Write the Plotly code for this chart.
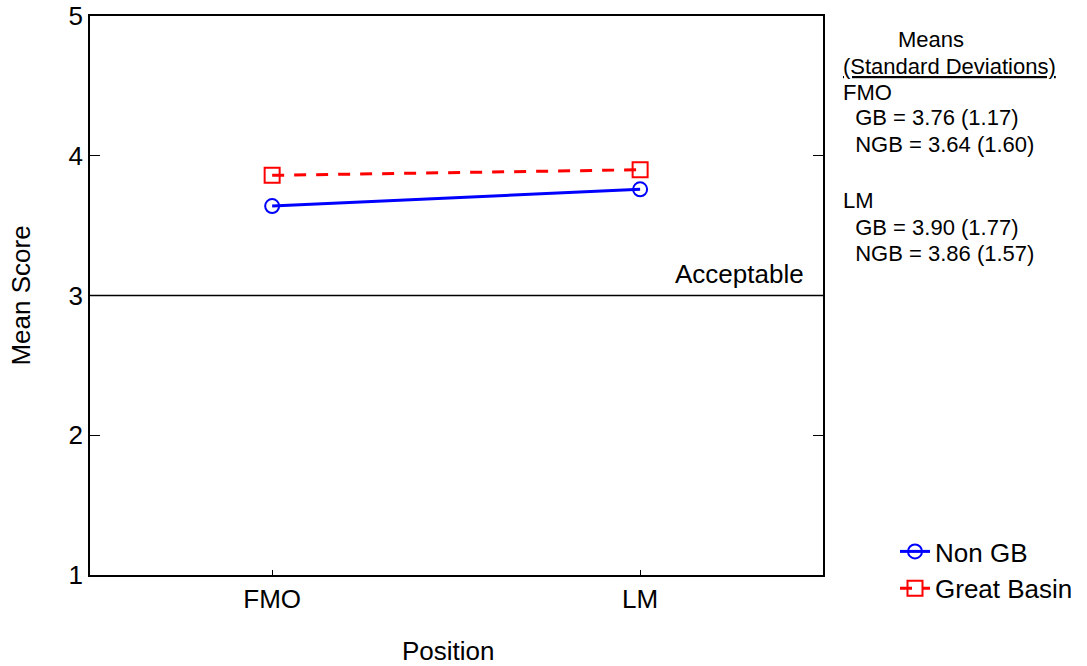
import plotly.graph_objects as go

positions = ["FMO", "LM"]
non_gb = [3.64, 3.76]
great_basin = [3.86, 3.90]
y_ticks = [1, 2, 3, 4, 5]
acceptable_level = 3
stats_lines = [
    ("Means", "center"),
    ("<u>(Standard Deviations)</u>", "left"),
    ("FMO", "left"),
    ("  GB = 3.76 (1.17)", "left"),
    ("  NGB = 3.64 (1.60)", "left"),
    ("LM", "left"),
    ("  GB = 3.90 (1.77)", "left"),
    ("  NGB = 3.86 (1.57)", "left"),
]

W, H = 1087, 666
L, R, T, B = 90, 823, 16, 575
FONT = "Liberation Sans, Arial, sans-serif"

def px(x):
    return (x - L) / (R - L)

def py(y):
    return (B - y) / (B - T)

fig = go.Figure()
fig.add_trace(go.Scatter(
    x=positions, y=non_gb, name="Non GB", mode="lines+markers",
    line=dict(color="#0000ff", width=3),
    marker=dict(symbol="circle-open", size=14, color="#0000ff", line=dict(width=2)),
))
fig.add_trace(go.Scatter(
    x=positions, y=great_basin, name="Great Basin", mode="lines+markers",
    line=dict(color="#ff0000", width=3, dash="12px,10px"),
    marker=dict(symbol="square-open", size=15, color="#ff0000", line=dict(width=2)),
))

fig.add_shape(type="line", xref="paper", yref="y", x0=0, x1=1,
              y0=acceptable_level, y1=acceptable_level,
              line=dict(color="black", width=1.5))
fig.add_annotation(xref="paper", yref="y", x=px(806), y=acceptable_level,
                   text="Acceptable", showarrow=False, xanchor="right",
                   yanchor="bottom", yshift=5, font=dict(size=26, color="black", family=FONT))

# x-axis title placed like the reference (slightly left of plot centre)
fig.add_annotation(xref="paper", yref="paper", x=px(448), y=py(651),
                   text="Position", showarrow=False, xanchor="center", yanchor="middle",
                   font=dict(size=26, color="black", family=FONT))

ys = [40, 66, 92, 118, 145, 200, 227, 253]
for (txt, al), yy in zip(stats_lines, ys):
    if al == "center":
        fig.add_annotation(xref="paper", yref="paper", x=px(931), y=py(yy),
                           text=txt, showarrow=False, xanchor="center", yanchor="middle",
                           font=dict(size=22, color="black", family=FONT))
    else:
        fig.add_annotation(xref="paper", yref="paper", x=px(841), y=py(yy),
                           text=txt.replace(" ", "&nbsp;"), showarrow=False, xanchor="left",
                           yanchor="middle",
                           font=dict(size=22, color="black", family=FONT))

fig.update_layout(
    width=W, height=H,
    margin=dict(l=L, r=W - R, t=T, b=H - B, autoexpand=False),
    paper_bgcolor="white", plot_bgcolor="white",
    font=dict(family=FONT, size=26, color="black"),
    showlegend=True,
    legend=dict(x=px(895), y=py(528), xanchor="left", yanchor="top",
                font=dict(size=26), bgcolor="rgba(0,0,0,0)", tracegroupgap=0),
    xaxis=dict(
        type="category", range=[-0.495, 1.497], showgrid=False, zeroline=False,
        showline=True, linecolor="black", linewidth=1.5, mirror=True,
        ticks="inside", ticklen=5, tickcolor="black", automargin=False,
        tickfont=dict(size=26),
    ),
    yaxis=dict(
        range=[1, 5], tickvals=y_ticks, showgrid=False, zeroline=False,
        showline=True, linecolor="black", linewidth=1.5, mirror="ticks",
        ticks="inside", ticklen=10, tickcolor="black", automargin=False,
        title=dict(text="Mean Score", font=dict(size=26), standoff=30),
        tickfont=dict(size=26),
    ),
)

fig.write_html("out.html")
